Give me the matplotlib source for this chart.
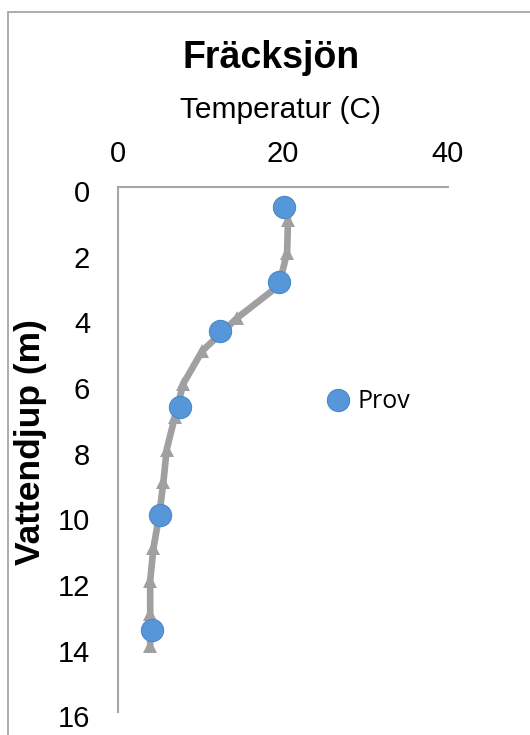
import numpy as np
import matplotlib.pyplot as plt
import matplotlib.transforms as mtransforms
from matplotlib.lines import Line2D
from matplotlib.patches import Rectangle

# profile (line with triangles)
profile_depth = [1, 2, 3, 4, 5, 6, 7, 8, 9, 10, 11, 12, 13, 14]
profile_temp = [20.6, 20.5, 19.5, 14.4, 10.2, 7.9, 6.9, 5.9, 5.5, 5.0, 4.3, 3.9, 3.9, 3.9]

# samples (blue dots)
prov_depth = [0.6, 2.9, 4.4, 6.7, 10.0, 13.5]
prov_temp = [20.1, 19.5, 12.4, 7.5, 5.1, 4.1]

x_ticks = [0, 20, 40]
y_ticks = [0, 2, 4, 6, 8, 10, 12, 14, 16]

W, H = 530, 735
fig = plt.figure(figsize=(W / 100, H / 100), dpi=100)
fig.patch.set_facecolor('white')

# outer chart border, cut off at right and bottom
fig.patches.append(Rectangle((8 / W, -0.1), 1.2, 1.1 - 12 / H,
                             transform=fig.transFigure, fill=False,
                             edgecolor='#A6A6A6', linewidth=1.3))

ax = fig.add_axes([118 / W, 1 - 712 / H, (448 - 118) / W, (712 - 187) / H])
ax.set_xlim(0, 40)
ax.set_ylim(16, 0)

ax.plot(profile_temp, profile_depth, color='#A0A0A0', linewidth=4.8,
        marker='^', markersize=10.5, markeredgewidth=0, zorder=2,
        clip_on=False)
ax.plot(prov_temp, prov_depth, linestyle='none', marker='o',
        markersize=16, markerfacecolor='#5696D9', markeredgecolor='#4A88CC',
        markeredgewidth=0.8, zorder=3, clip_on=False)

ax.xaxis.tick_top()
ax.set_xticks(x_ticks)
ax.set_yticks(y_ticks)
ax.tick_params(axis='x', length=0, pad=14, labelsize=21)
ax.tick_params(axis='y', length=0, pad=20, labelsize=21)
shift = mtransforms.ScaledTranslation(0, -3 / 72, fig.dpi_scale_trans)
for lbl in ax.get_xticklabels() + ax.get_yticklabels():
    lbl.set_family('Liberation Sans')
for lbl in ax.get_yticklabels():
    lbl.set_transform(lbl.get_transform() + shift)

for side in ['right', 'bottom']:
    ax.spines[side].set_visible(False)
for side in ['left', 'top']:
    ax.spines[side].set_color('#A6A6A6')
    ax.spines[side].set_linewidth(1.5)

fig.text(271 / W, 1 - 58 / H, 'Fräcksjön', ha='center', va='center',
         fontsize=27, fontweight='bold', family='Liberation Sans')
fig.text(280 / W, 1 - 110 / H, 'Temperatur (C)', ha='center', va='center',
         fontsize=21.5, family='Liberation Sans')
fig.text(31 / W, 1 - 442 / H, 'Vattendjup (m)', ha='center', va='center',
         rotation=90, fontsize=25.5, fontweight='bold', family='Liberation Sans')

handle = Line2D([], [], linestyle='none', marker='o', markersize=16,
                markerfacecolor='#5696D9', markeredgecolor='#4A88CC',
                markeredgewidth=0.8)
fig.legend([handle], ['Prov'], loc='center left',
           bbox_to_anchor=(324 / W, 1 - 402 / H), frameon=False,
           borderpad=0, borderaxespad=0, handlelength=1.1, handletextpad=0.25,
           prop={'family': 'Open Sans', 'size': 18})

fig.savefig('out.png', dpi=100)
